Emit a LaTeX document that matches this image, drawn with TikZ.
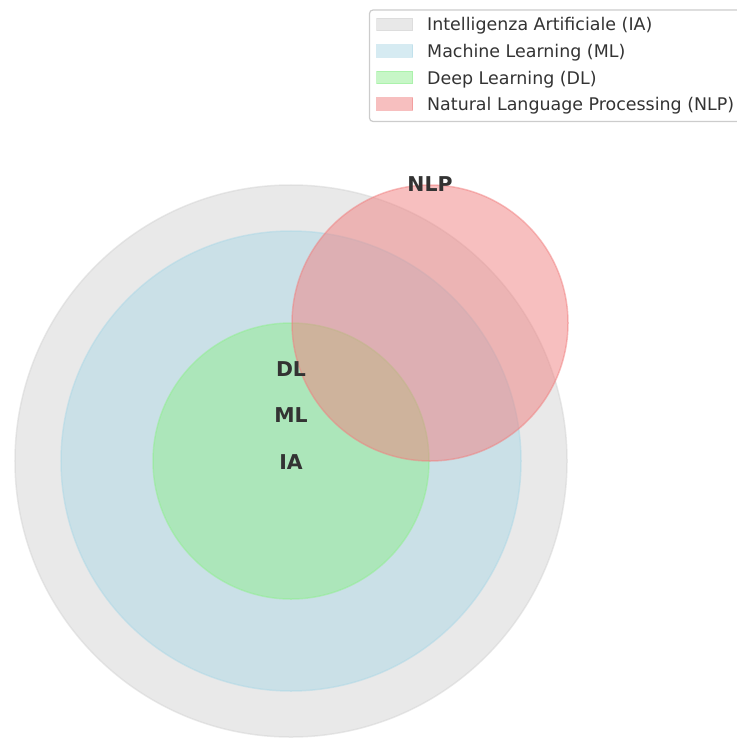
\documentclass[tikz,border=0pt]{standalone}
\usepackage{fontspec}
\setmainfont{DejaVu Sans}
\definecolor{cIA}{HTML}{D3D3D3}
\definecolor{cML}{HTML}{ADD8E6}
\definecolor{cDL}{HTML}{90EE90}
\definecolor{cNLP}{HTML}{F08080}
\definecolor{txt}{HTML}{333333}
\definecolor{frame}{HTML}{CCCCCC}
\tikzset{
  setc/.style={fill=#1, draw=#1, fill opacity=0.5, draw opacity=0.5, line width=1.5bp},
  lab/.style={anchor=base, text=txt, font=\bfseries\fontsize{20.5}{24}\selectfont, inner sep=0pt},
  legtxt/.style={anchor=base west, text=txt, font=\fontsize{17.5}{21}\selectfont, inner sep=0pt},
  legpatch/.style={fill=#1, draw=#1, fill opacity=0.5, draw opacity=0.5, line width=1bp, minimum width=36bp, minimum height=12.5bp, inner sep=0pt, anchor=west}
}
\begin{document}
\begin{tikzpicture}[x=1bp,y=-1bp]
\useasboundingbox (0,0) rectangle (737,738);
\begin{scope}
\clip (0,0) rectangle (737,738);
% circles
\node[setc=cIA, circle, minimum size=552bp, inner sep=0pt] (ia) at (291,461) {};
\node[setc=cML, circle, minimum size=460bp, inner sep=0pt] (ml) at (291,461) {};
\node[setc=cDL, circle, minimum size=276bp, inner sep=0pt] (dl) at (291,461) {};
\node[setc=cNLP, circle, minimum size=276bp, inner sep=0pt] (nlp) at (430,323) {};
% labels
\node[lab] (tdl) at (291,376) {DL};
\node[lab] (tml) at (291,422.5) {ML};
\node[lab] (tia) at (291,469) {IA};
\node[lab] (tnlp) at (430,191.5) {NLP};
% legend
\draw[frame, fill=white, fill opacity=0.8, line width=1.2bp, rounded corners=3.5bp] (369.5,10) rectangle (760,121.5);
\node[legpatch=cIA] (p1) at (376,24.5) {};
\node[legpatch=cML] (p2) at (376,51) {};
\node[legpatch=cDL] (p3) at (376,77.5) {};
\node[legpatch=cNLP] (p4) at (376,104) {};
\node[legtxt] (l1) at (427,31) {Intelligenza Artificiale (IA)};
\node[legtxt] (l2) at (427,57.5) {Machine Learning (ML)};
\node[legtxt] (l3) at (427,84) {Deep Learning (DL)};
\node[legtxt] (l4) at (427,110.5) {Natural Language Processing (NLP)};
\end{scope}
\end{tikzpicture}
\end{document}
